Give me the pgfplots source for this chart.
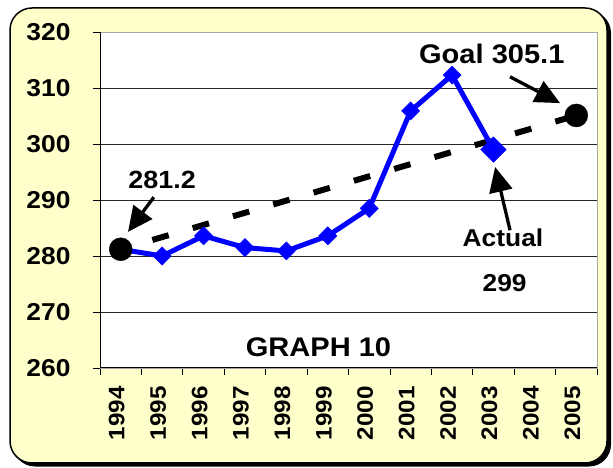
\documentclass[border=0pt]{standalone}
\usepackage{fontspec}
\setmainfont[FakeStretch=1.08]{Liberation Sans}
\usepackage{pgfplots}
\pgfplotsset{compat=1.18}
\usetikzlibrary{arrows.meta}
\definecolor{bgyellow}{RGB}{255,255,204}
\definecolor{serblue}{RGB}{0,0,255}
\begin{document}
\begin{tikzpicture}
\useasboundingbox (0bp,0bp) rectangle (613bp,468bp);
\fill[black, rounded corners=22bp] (13bp,1.5bp) rectangle (611bp,457bp);
\filldraw[fill=bgyellow, draw=black, line width=1.5bp, rounded corners=22bp] (10bp,5bp) rectangle (607bp,460bp);
\begin{axis}[
  at={(100bp,100bp)}, anchor=south west,
  width=497bp, height=336bp, scale only axis,
  xmin=-0.5, xmax=11.5, ymin=260, ymax=320,
  clip=false,
  axis background/.style={fill=white},
  axis line style={draw=gray!70},
  xtick={0,...,11},
  xticklabels={1994,1995,1996,1997,1998,1999,2000,2001,2002,2003,2004,2005},
  minor xtick={-0.5,0.5,...,11.5},
  major x tick style={draw=none},
  minor x tick style={draw=black, line width=0.8bp},
  ytick={260,270,...,320},
  y tick style={draw=black, line width=0.8bp},
  tick align=outside,
  xtick pos=bottom, ytick pos=left,
  major tick length=7bp, minor tick length=7bp,
  ymajorgrids, major grid style={draw=gray!30!black, line width=0.8bp},
  /pgf/number format/assume math mode=true,
  yticklabel style={font=\fontsize{24.5}{24}\selectfont\bfseries, xshift=-19bp},
  xticklabel style={font=\fontsize{22.5}{22}\selectfont\bfseries, xshift=-4bp, yshift=-8bp, rotate=90, anchor=east},
]
\addplot[black, line width=6bp, dash pattern=on 17bp off 25bp, dash phase=9bp] coordinates {(0,281.2) (11,305.1)};
\addplot[serblue, line width=5bp, mark=square*, mark size=6.4bp, mark options={solid, rotate=45, line width=0.5bp}] coordinates {
(0,281.2) (1,280.0) (2,283.6) (3,281.5) (4,280.9) (5,283.6) (6,288.5) (7,305.9) (8,312.3) (9,299.0)};
\addplot[serblue, only marks, mark=square*, mark size=9bp, mark options={rotate=45, line width=0.5bp}] coordinates {(9,299.0)};
\addplot[black, only marks, mark=*, mark size=11.5bp] coordinates {(0,281.2) (11,305.1)};
\draw[black, line width=1bp] (rel axis cs:0,1) -- (rel axis cs:0,0) -- (rel axis cs:1,0);
\node[anchor=base, font=\fontsize{25}{25}\selectfont\bfseries] at (axis cs:1.0,292.1) {281.2};
\node[anchor=base, font=\fontsize{27}{27}\selectfont\bfseries] at (axis cs:8.96,314.3) {Goal 305.1};
\node[anchor=base, font=\fontsize{24.5}{24}\selectfont\bfseries] at (axis cs:9.23,281.7) {Actual};
\node[anchor=base, font=\fontsize{24.5}{24}\selectfont\bfseries] at (axis cs:9.27,273.6) {299};
\node[anchor=base, font=\fontsize{27}{27}\selectfont\bfseries] at (axis cs:4.775,262.0) {GRAPH 10};
\draw[black, line width=3.3bp, -{Triangle[length=25bp, width=23bp]}] (axis cs:0.80,290.5) -- (axis cs:0.176,284.3);
\draw[black, line width=3.3bp, -{Triangle[length=25bp, width=23bp]}] (axis cs:9.40,312.0) -- (axis cs:10.61,307.3);
\draw[black, line width=3.3bp, -{Triangle[length=25bp, width=23bp]}] (axis cs:9.40,284.6) -- (axis cs:9.04,295.9);
\end{axis}
\end{tikzpicture}
\end{document}
